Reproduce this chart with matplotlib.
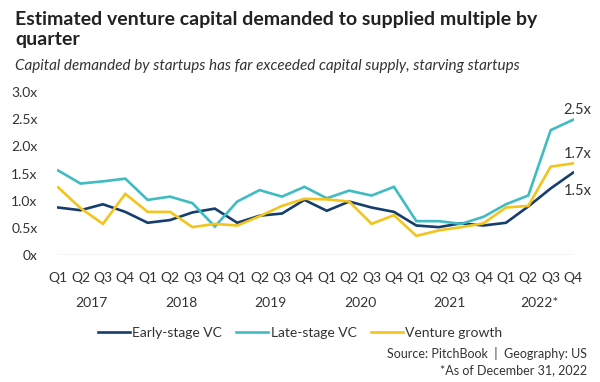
import matplotlib
matplotlib.use("Agg")
import matplotlib.pyplot as plt
import matplotlib.transforms as mtransforms

plt.rcParams['font.family'] = ['Lato', 'DejaVu Sans']

quarters = ["Q1", "Q2", "Q3", "Q4"] * 6
years = ["2017", "2018", "2019", "2020", "2021", "2022*"]

# demanded / supplied multiples, Q1 2017 .. Q4 2022
early_stage = [0.88, 0.83, 0.94, 0.80, 0.60, 0.65, 0.79, 0.86,
               0.60, 0.73, 0.77, 1.02, 0.82, 0.99, 0.88, 0.80,
               0.55, 0.52, 0.59, 0.55, 0.60, 0.90, 1.23, 1.52]
late_stage = [1.56, 1.32, 1.36, 1.41, 1.02, 1.08, 0.96, 0.53,
              0.99, 1.20, 1.08, 1.26, 1.05, 1.19, 1.10, 1.26,
              0.63, 0.63, 0.58, 0.71, 0.94, 1.10, 2.30, 2.49]
venture_growth = [1.25, 0.87, 0.58, 1.13, 0.80, 0.80, 0.52, 0.58,
                  0.55, 0.72, 0.91, 1.04, 1.03, 0.99, 0.58, 0.74,
                  0.36, 0.46, 0.52, 0.59, 0.88, 0.91, 1.63, 1.69]
end_labels = ["1.5x", "2.5x", "1.7x"]

navy = "#163e6c"
teal = "#3fbcc2"
yellow = "#f2c41c"
txt = "#333333"

fig = plt.figure(figsize=(6, 3.82), dpi=100)
ax = fig.add_axes([0.0950, 0.3312, 0.8620, 0.4280])

x = list(range(len(quarters)))
ax.plot(x, early_stage, color=navy, lw=1.9, label="Early-stage VC", solid_joinstyle="miter")
ax.plot(x, late_stage, color=teal, lw=1.9, label="Late-stage VC", solid_joinstyle="miter")
ax.plot(x, venture_growth, color=yellow, lw=1.9, label="Venture growth", solid_joinstyle="miter")

# end-of-series labels
ax.annotate(end_labels[1], (x[-1], late_stage[-1]), xytext=(3, 7), textcoords="offset points",
            ha="center", va="center", fontsize=10.5, color=txt)
ax.annotate(end_labels[2], (x[-1], venture_growth[-1]), xytext=(3, 7), textcoords="offset points",
            ha="center", va="center", fontsize=10.5, color=txt)
ax.annotate(end_labels[0], (x[-1], early_stage[-1]), xytext=(3, -13), textcoords="offset points",
            ha="center", va="center", fontsize=10.5, color=txt)

ax.set_xlim(-0.05, 23.05)
ax.set_ylim(0, 3.0)
ax.set_yticks([0, 0.5, 1.0, 1.5, 2.0, 2.5, 3.0])
ax.set_yticklabels(["0x", "0.5x", "1.0x", "1.5x", "2.0x", "2.5x", "3.0x"])
ax.set_xticks(x)
ax.set_xticklabels(quarters)
ax.tick_params(length=0, labelsize=10, labelcolor=txt)
ax.tick_params(axis="y", pad=14)
ax.tick_params(axis="x", pad=12)
for s in ax.spines.values():
    s.set_visible(False)
ax.axhline(0, color="#c8c8c8", lw=1, zorder=0)

# year labels under the quarters
trans = mtransforms.blended_transform_factory(ax.transData, fig.transFigure)
for i, yr in enumerate(years):
    ax.text(i * 4 + 1.5, 1 - 303 / 382, yr, transform=trans, ha="center", va="center",
            fontsize=10, color=txt)

fig.text(15 / 600, 1 - 19 / 382, "Estimated venture capital demanded to supplied multiple by",
         fontsize=14, fontweight="bold", color="#222222", va="center")
fig.text(15 / 600, 1 - 40 / 382, "quarter",
         fontsize=14, fontweight="bold", color="#222222", va="center")
fig.text(15 / 600, 1 - 66 / 382, "Capital demanded by startups has far exceeded capital supply, starving startups",
         fontsize=11, style="italic", color=txt, va="center")

fig.legend(loc="center", bbox_to_anchor=(0.5, 1 - 333 / 382), ncol=3, frameon=False,
           fontsize=10, handlelength=2.3, handletextpad=0.2, columnspacing=1.0,
           labelcolor=txt)

fig.text(587 / 600, 1 - 354 / 382, "Source: PitchBook  |  Geography: US",
         fontsize=9, color=txt, ha="right", va="center")
fig.text(587 / 600, 1 - 370 / 382, "*As of December 31, 2022",
         fontsize=9, color=txt, ha="right", va="center")

fig.savefig("out.png", dpi=100)
